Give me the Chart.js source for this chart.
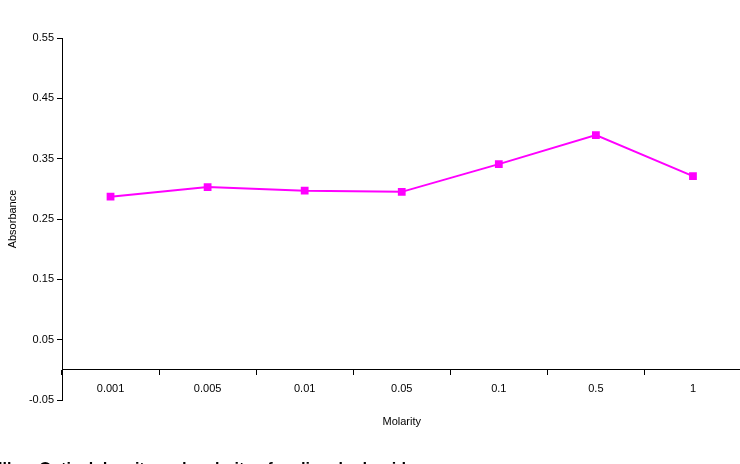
<!DOCTYPE html>
<html>
<head>
<meta charset="utf-8">
<script src="https://cdn.jsdelivr.net/npm/chart.js@4/dist/chart.umd.min.js"></script>
<style>
  html, body { margin: 0; padding: 0; background: #fff; overflow: hidden; }
  #wrap { position: relative; width: 740px; height: 464px; overflow: hidden; }
  #c { position: absolute; left: 0; top: 0; }
  #caption { position: absolute; left: -2px; top: 460px; font: bold 16px "Liberation Sans", Arial, sans-serif; color: #000; white-space: nowrap; }
</style>
</head>
<body>
<div id="wrap">
  <canvas id="c" width="747" height="464"></canvas>
  <div id="caption">Illus. Optical density and molarity of sodium hydroxide</div>
</div>
<script>
const categories = ["0.001", "0.005", "0.01", "0.05", "0.1", "0.5", "1"];
const absorbance = [0.287, 0.303, 0.297, 0.295, 0.341, 0.389, 0.321];
const yMin = -0.05, yMax = 0.55, yStep = 0.1;
const xTitle = "Molarity";
const yTitle = "Absorbance";

const font = { family: '"Liberation Sans", Arial, sans-serif', size: 11 };

new Chart(document.getElementById('c'), {
  type: 'line',
  data: {
    labels: categories,
    datasets: [{
      data: absorbance,
      borderColor: '#FF00FF',
      backgroundColor: '#FF00FF',
      borderWidth: 2,
      pointStyle: 'rect',
      pointRadius: 5.5,
      pointBorderWidth: 0,
      tension: 0
    }]
  },
  options: {
    responsive: false,
    animation: false,
    devicePixelRatio: 1,
    layout: { padding: { top: 38, right: 0, bottom: 64, left: 0 } },
    plugins: { legend: { display: false }, tooltip: { enabled: false } },
    scales: {
      x: {
        type: 'category',
        position: { y: 0 },
        offset: true,
        grid: { offset: true, drawOnChartArea: false, drawTicks: true, tickLength: 5, color: '#000' },
        border: { display: true, color: '#000', width: 1 },
        ticks: { color: '#000', font: font, padding: 8, maxRotation: 0 },
        title: { display: true, text: xTitle, color: '#000', font: font, padding: { top: 11, bottom: 0 } }
      },
      y: {
        min: yMin, max: yMax,
        ticks: {
          stepSize: yStep, color: '#000', font: font, padding: 3,
          callback: v => v.toFixed(2)
        },
        grid: { drawOnChartArea: false, drawTicks: true, tickLength: 5, color: '#000' },
        border: { display: true, color: '#000', width: 1 },
        title: { display: true, text: yTitle, color: '#000', font: font, padding: { top: 6, bottom: 0 } },
        afterFit: s => { s.width = 62; }
      }
    }
  }
});
</script>
</body>
</html>
